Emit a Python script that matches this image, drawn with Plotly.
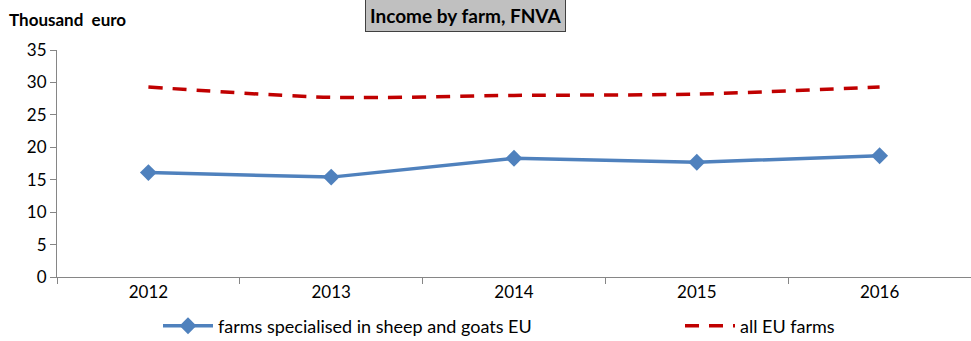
import plotly.graph_objects as go

years = ["2012", "2013", "2014", "2015", "2016"]
sheep_goats = [16.1, 15.4, 18.3, 17.7, 18.7]
all_farms = [29.3, 27.7, 28.0, 28.2, 29.3]
y_ticks = [0, 5, 10, 15, 20, 25, 30, 35]

FONT = "Lato, 'Open Sans', sans-serif"

fig = go.Figure()
fig.add_trace(go.Scatter(
    x=years, y=sheep_goats, mode="lines+markers",
    name="farms specialised in sheep and goats EU",
    line=dict(color="#4f81bd", width=3.5),
    marker=dict(symbol="diamond", size=13, color="#4f81bd"),
    legend="legend",
))
fig.add_trace(go.Scatter(
    x=years, y=all_farms, mode="lines",
    name="all EU farms",
    line=dict(color="#c00000", width=3.5, dash="14px,10px", shape="spline", smoothing=0.8),
    legend="legend2",
))

legend_common = dict(
    orientation="h", xref="container", yref="container",
    xanchor="left", yanchor="middle",
    font=dict(family=FONT, size=18), itemwidth=50, bgcolor="rgba(0,0,0,0)",
)

fig.update_layout(
    width=971, height=341,
    margin=dict(l=57, r=0, t=50, b=64),
    plot_bgcolor="white", paper_bgcolor="white",
    font=dict(family=FONT, size=17, color="black"),
    showlegend=True,
    legend=dict(x=158 / 971, y=1 - 326 / 341, **legend_common),
    legend2=dict(x=680 / 971, y=1 - 326 / 341, **legend_common),
    xaxis=dict(
        type="category", showline=True, linecolor="#868686", linewidth=1,
        ticks="outside", tickson="boundaries", ticklen=6, tickcolor="#868686",
        showgrid=False, tickfont=dict(size=17), range=[-0.5, 4.5],
    ),
    yaxis=dict(
        range=[0, 35], tickvals=y_ticks, showline=True, linecolor="#868686",
        linewidth=1, ticks="outside", ticklen=6, tickcolor="#868686",
        showgrid=False, zeroline=False, tickfont=dict(size=17),
    ),
    annotations=[
        dict(text="<b>Thousand  euro</b>", xref="paper", yref="paper",
             x=-50 / 915, y=(276.7 - 20) / 226.7, xanchor="left", yanchor="middle",
             showarrow=False, font=dict(size=17)),
        dict(text="<b>Income by farm, FNVA</b>", xref="paper", yref="paper",
             x=(466 - 57) / 915, y=(276.7 - 16) / 226.7, xanchor="center", yanchor="middle",
             showarrow=False, font=dict(size=19), bgcolor="#c0c0c0",
             bordercolor="#404040", borderwidth=1, borderpad=4),
    ],
)

fig.write_html("out.html")
